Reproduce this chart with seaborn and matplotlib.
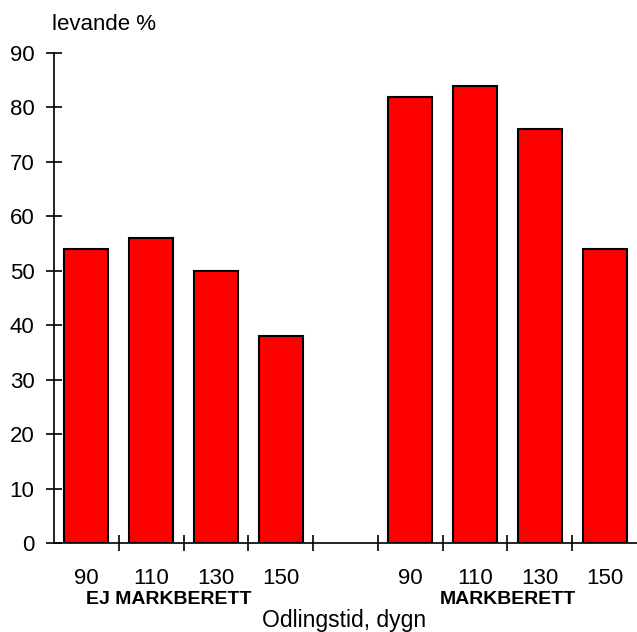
import matplotlib
matplotlib.use("Agg")
import matplotlib.pyplot as plt
import seaborn as sns
import pandas as pd
from matplotlib.ticker import FixedLocator

# slots along the x axis, one empty slot between the two groups
slots = ["ej90", "ej110", "ej130", "ej150", "gap", "m90", "m110", "m130", "m150"]
bar_slots = ["ej90", "ej110", "ej130", "ej150", "m90", "m110", "m130", "m150"]
levande = [54, 56, 50, 38, 82, 84, 76, 54]
tick_labels = ["90", "110", "130", "150", "", "90", "110", "130", "150"]
group_labels = ["EJ MARKBERETT", "MARKBERETT"]

df = pd.DataFrame({"slot": bar_slots, "levande": levande})

sns.set_style("ticks")
plt.rcParams["font.family"] = ["Liberation Sans", "DejaVu Sans"]
plt.rcParams["text.color"] = "black"

fig = plt.figure(figsize=(6.37, 6.32), dpi=100)
ax = fig.add_axes([54 / 637, 1 - 543 / 632, 1 - 54 / 637, (543 - 53) / 632])

sns.barplot(data=df, x="slot", y="levande", order=slots, color="#ff0000",
            edgecolor="black", linewidth=1.5, width=0.68, saturation=1, ax=ax)

ax.set_xlim(-0.5, len(slots) - 0.5)
ax.set_ylim(0, 90)
ax.set_yticks(range(0, 91, 10))
ax.set_xticks(range(len(slots)))
ax.set_xticklabels(tick_labels)
ax.xaxis.set_minor_locator(FixedLocator([i + 0.5 for i in range(len(slots) - 1)]))

ax.tick_params(axis="x", which="major", length=0, pad=18, labelsize=16,
               colors="black", labelcolor="black")
ax.tick_params(axis="x", which="minor", direction="inout", length=11, width=1.2, color="black")
ax.tick_params(axis="y", direction="inout", length=12, width=1.2, pad=8, labelsize=16,
               colors="black", labelcolor="black")

sns.despine(ax=ax)
for s in ["left", "bottom"]:
    ax.spines[s].set_linewidth(1.2)
    ax.spines[s].set_color("black")

ax.set_xlabel("")
ax.set_ylabel("")

# group labels under the tick labels
ax.text(1.27, -0.116, group_labels[0], transform=ax.get_xaxis_transform(),
        ha="center", va="center", fontsize=14, fontweight="bold", color="black")
ax.text(6.5, -0.116, group_labels[1], transform=ax.get_xaxis_transform(),
        ha="center", va="center", fontsize=14, fontweight="bold", color="black")

fig.text(344 / 637, 1 - 621 / 632, "Odlingstid, dygn", ha="center", va="center",
         fontsize=16.5, color="black")
fig.text(52 / 637, 1 - 25 / 632, "levande %", ha="left", va="center", fontsize=16,
         color="black")

fig.savefig("out.png", dpi=100)
